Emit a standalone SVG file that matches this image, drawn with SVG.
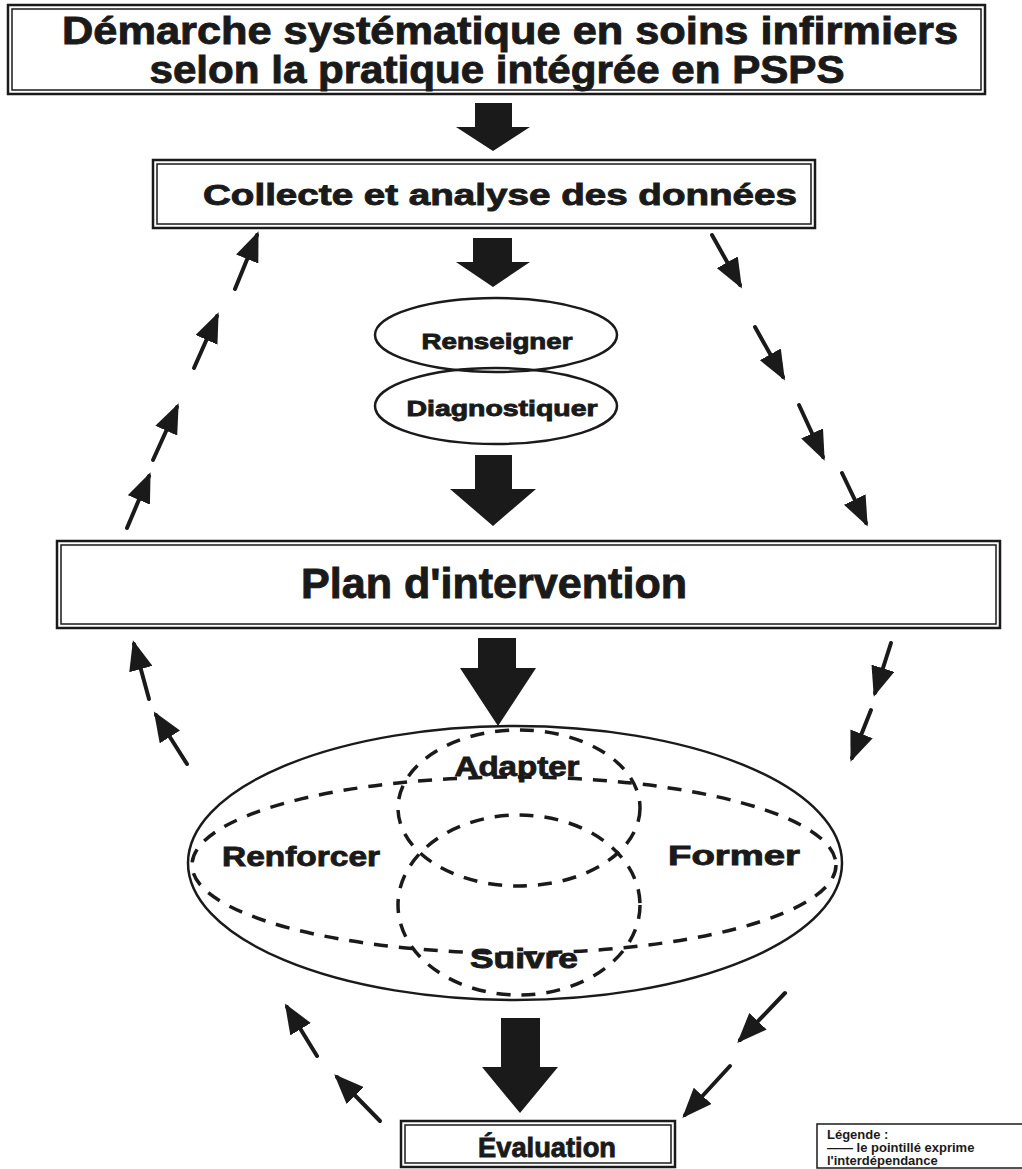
<svg xmlns="http://www.w3.org/2000/svg" width="1022" height="1169" viewBox="0 0 1022 1169">
<style>
.bg{fill:#fff}
.outer{fill:#fff;stroke:#1a1a1a;stroke-width:2.5}
.inner{fill:none;stroke:#1a1a1a;stroke-width:1.5}
.t{font-family:"Liberation Sans",Arial,sans-serif;font-weight:bold;fill:#1a1a1a;stroke:#1a1a1a;stroke-width:0.9;text-anchor:middle}
.solid{fill:#fff;stroke:#1a1a1a;stroke-width:2.5}
.dash{fill:none;stroke:#1a1a1a;stroke-width:3.5;stroke-dasharray:14 11}
.block{fill:#1a1a1a}
.side{stroke:#1a1a1a;stroke-width:4;stroke-linecap:round;fill:none;marker-end:url(#ah)}
.leg{font-family:"Liberation Sans",Arial,sans-serif;font-weight:bold;fill:#1a1a1a;font-size:13px}
</style>
<defs>
<marker id="ah" markerUnits="userSpaceOnUse" markerWidth="30" markerHeight="24" viewBox="0 0 30 24" refX="26" refY="12" orient="auto">
<path d="M0,0 L30,12 L0,24 z" fill="#1a1a1a"/>
</marker>
</defs>
<rect class="bg" x="0" y="0" width="1022" height="1169"/>

<g id="title">
<rect class="outer" x="8" y="5" width="977" height="89"/>
<rect class="inner" x="12" y="9" width="969" height="81"/>
<text class="t" x="510" y="44" font-size="38" textLength="896" lengthAdjust="spacingAndGlyphs">Démarche systématique en soins infirmiers</text>
<text class="t" x="497" y="83" font-size="38" textLength="695" lengthAdjust="spacingAndGlyphs">selon la pratique intégrée en PSPS</text>
</g>

<g id="collecte">
<rect class="outer" x="153" y="160" width="662" height="68"/>
<rect class="inner" x="157" y="164" width="654" height="60"/>
<text class="t" x="500" y="205" font-size="29" textLength="594" lengthAdjust="spacingAndGlyphs">Collecte et analyse des données</text>
</g>

<g id="renseigner">
<ellipse class="solid" cx="496" cy="335" rx="121" ry="37"/>
<text class="t" x="497" y="349" font-size="22" textLength="151" lengthAdjust="spacingAndGlyphs">Renseigner</text>
</g>

<g id="diagnostiquer">
<ellipse cx="496" cy="406" rx="121" ry="38" fill="none" stroke="#1a1a1a" stroke-width="2.5"/>
<text class="t" x="502" y="416" font-size="22" textLength="191" lengthAdjust="spacingAndGlyphs">Diagnostiquer</text>
</g>

<g id="plan">
<rect class="outer" x="57" y="541" width="943" height="87"/>
<rect class="inner" x="61" y="545" width="935" height="79"/>
<text class="t" x="494" y="598" font-size="42" textLength="386" lengthAdjust="spacingAndGlyphs">Plan d'intervention</text>
</g>

<g id="interventions">
<ellipse class="solid" cx="515" cy="863" rx="327" ry="137"/>
<ellipse class="dash" cx="514" cy="865" rx="322" ry="88"/>
<ellipse class="dash" cx="519" cy="808" rx="121" ry="78"/>
<ellipse class="dash" cx="519" cy="905" rx="121" ry="90"/>
<text class="t" x="517" y="776" font-size="28" textLength="125" lengthAdjust="spacingAndGlyphs">Adapter</text>
<text class="t" x="301" y="866" font-size="28" textLength="158" lengthAdjust="spacingAndGlyphs">Renforcer</text>
<text class="t" x="734" y="865" font-size="28" textLength="132" lengthAdjust="spacingAndGlyphs">Former</text>
<text class="t" x="524" y="968" font-size="28" textLength="108" lengthAdjust="spacingAndGlyphs">Suivre</text>
</g>

<g id="evaluation">
<rect class="outer" x="401" y="1121" width="274" height="46"/>
<rect class="inner" x="405" y="1125" width="266" height="38"/>
<text class="t" x="547" y="1157" font-size="28" textLength="138" lengthAdjust="spacingAndGlyphs">Évaluation</text>
</g>

<g id="legende">
<rect x="817" y="1124" width="210" height="44" fill="#fff" stroke="#1a1a1a" stroke-width="1.5"/>
<text class="leg" x="827" y="1139">Légende :</text>
<text class="leg" x="827" y="1152">—— le pointillé exprime</text>
<text class="leg" x="827" y="1165">l'interdépendance</text>
</g>

<g id="connectors">
<polygon class="block" points="475,103 512,103 512,127 530,127 493,151 456,127 475,127"/>
<polygon class="block" points="473,238 512,238 512,262 530,262 493,287 456,262 473,262"/>
<polygon class="block" points="475,455 512,455 512,489 536,489 493,526 450,489 475,489"/>
<polygon class="block" points="478,638 516,638 516,668 536,668 498,726 460,668 478,668"/>
<polygon class="block" points="501,1018 540,1018 540,1067 558,1067 520,1113 482,1067 501,1067"/>

<line class="side" x1="235" y1="289" x2="257" y2="235"/>
<line class="side" x1="194" y1="368" x2="217" y2="316"/>
<line class="side" x1="153" y1="460" x2="177" y2="407"/>
<line class="side" x1="127" y1="528" x2="149" y2="476"/>

<line class="side" x1="712" y1="235" x2="740" y2="285"/>
<line class="side" x1="755" y1="327" x2="783" y2="377"/>
<line class="side" x1="799" y1="405" x2="823" y2="457"/>
<line class="side" x1="842" y1="473" x2="866" y2="523"/>

<line class="side" x1="149" y1="699" x2="134" y2="644"/>
<line class="side" x1="187" y1="764" x2="156" y2="715"/>

<line class="side" x1="891" y1="643" x2="875" y2="693"/>
<line class="side" x1="871" y1="710" x2="852" y2="758"/>

<line class="side" x1="317" y1="1056" x2="287" y2="1007"/>
<line class="side" x1="380" y1="1121" x2="337" y2="1077"/>

<line class="side" x1="785" y1="993" x2="740" y2="1040"/>
<line class="side" x1="730" y1="1066" x2="685" y2="1115"/>
</g>
</svg>
